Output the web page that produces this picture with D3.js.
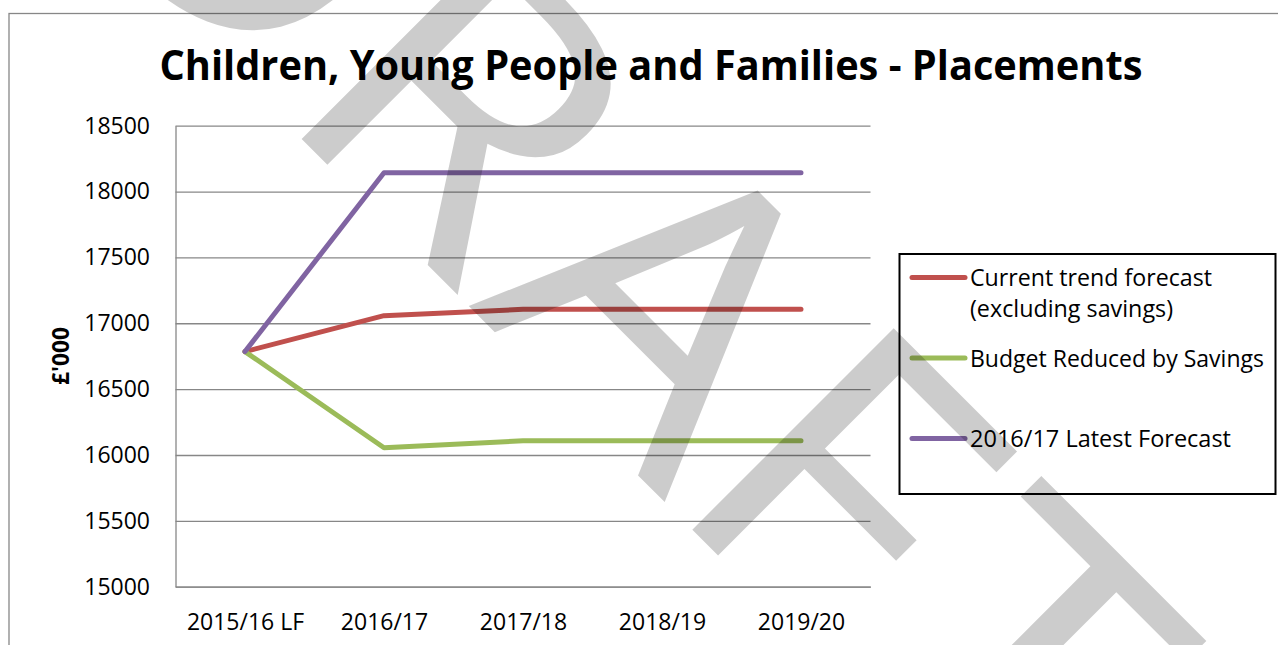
<!DOCTYPE html>
<html>
<head>
<meta charset="utf-8">
<script src="https://cdn.jsdelivr.net/npm/d3@7"></script>
<style>
  html, body { margin: 0; padding: 0; background: #fff; }
  svg { display: block; }
</style>
</head>
<body>
<svg id="chart" width="1278" height="645"></svg>
<script>
// Categories, series and ticks
const categories = ["2015/16 LF", "2016/17", "2017/18", "2018/19", "2019/20"];
const currentTrend = [16785, 17058, 17106, 17106, 17106];
const budgetReduced = [16785, 16055, 16108, 16108, 16108];
const latestForecast = [16785, 18143, 18143, 18143, 18143];
const yTicks = [15000, 15500, 16000, 16500, 17000, 17500, 18000, 18500];
const seriesLabels = [["Current trend forecast", "(excluding savings)"], ["Budget Reduced by Savings"], ["2016/17 Latest Forecast"]];
const seriesColors = ["#C0504D", "#9BBB59", "#8064A2"];
const titleText = "Children, Young People and Families - Placements";
const yTitle = "£'000";
const stamp = "DRAFT";

const series = [currentTrend, budgetReduced, latestForecast].map((values, i) => ({
  label: seriesLabels[i], color: seriesColors[i], values
}));

const font = "'Open Sans', 'Noto Sans', sans-serif";
const gridColor = "#878787";
const svg = d3.select("#chart");

// Outer chart frame (runs off the right and bottom edges)
svg.append("rect")
  .attr("x", 9).attr("y", 13.5).attr("width", 1290).attr("height", 660)
  .attr("fill", "#fff").attr("stroke", gridColor).attr("stroke-width", 1.3);

// Title
svg.append("text")
  .attr("x", 651).attr("y", 80)
  .attr("text-anchor", "middle")
  .attr("font-family", font).attr("font-weight", 700).attr("font-size", 42)
  .attr("textLength", 983).attr("lengthAdjust", "spacingAndGlyphs")
  .attr("fill", "#000")
  .text(titleText);

// Plot area
const plot = { left: 175.5, right: 870.5, top: 125.7, bottom: 586.7 };
const x = d3.scalePoint().domain(categories).range([plot.left, plot.right]).padding(0.5);
const y = d3.scaleLinear().domain([15000, 18500]).range([plot.bottom, plot.top]);

// Value axis with horizontal gridlines
const yAxis = svg.append("g")
  .attr("transform", `translate(${plot.left},0)`)
  .call(d3.axisLeft(y).tickValues(yTicks).tickFormat(d3.format("d"))
    .tickSize(-(plot.right - plot.left)).tickSizeOuter(0).tickPadding(25.5));
yAxis.select(".domain").attr("stroke", gridColor).attr("stroke-width", 1.3);
yAxis.selectAll(".tick line").attr("stroke", gridColor).attr("stroke-width", 1.3);
yAxis.selectAll(".tick text")
  .attr("font-family", font).attr("font-size", 23).attr("fill", "#000");

// Category axis
const xAxis = svg.append("g")
  .attr("transform", `translate(0,${plot.bottom})`)
  .call(d3.axisBottom(x).tickSize(0).tickSizeOuter(0).tickPadding(27));
xAxis.select(".domain").attr("stroke", gridColor).attr("stroke-width", 1.3);
xAxis.selectAll(".tick text")
  .attr("font-family", font).attr("font-size", 23).attr("fill", "#000");

// Value axis title
svg.append("text")
  .attr("transform", "translate(69,356) rotate(-90)")
  .attr("text-anchor", "middle")
  .attr("font-family", font).attr("font-weight", 700).attr("font-size", 23)
  .attr("textLength", 58).attr("lengthAdjust", "spacingAndGlyphs")
  .attr("fill", "#000")
  .text(yTitle);

// Series lines
const line = d3.line()
  .x((d, i) => x(categories[i]))
  .y(d => y(d));
svg.append("g").selectAll("path")
  .data(series)
  .join("path")
  .attr("d", s => line(s.values))
  .attr("fill", "none")
  .attr("stroke", s => s.color)
  .attr("stroke-width", 5)
  .attr("stroke-linejoin", "round")
  .attr("stroke-linecap", "round");

// Legend
const legend = svg.append("g");
legend.append("rect")
  .attr("x", 899.5).attr("y", 254).attr("width", 376).attr("height", 240)
  .attr("fill", "#fff").attr("stroke", "#000").attr("stroke-width", 2);
const legendWidths = [[242, 203], [294], [261]];
const items = legend.selectAll("g.item")
  .data(series)
  .join("g")
  .attr("class", "item")
  .attr("transform", (d, i) => `translate(0,${277.5 + i * 80.5})`);
items.append("line")
  .attr("x1", 912).attr("x2", 965)
  .attr("stroke", d => d.color).attr("stroke-width", 5).attr("stroke-linecap", "round");
items.each(function (d, i) {
  const g = d3.select(this);
  d.label.forEach((txt, j) => {
    g.append("text")
      .attr("x", 970).attr("y", 8.7 + j * 31)
      .attr("font-family", font).attr("font-size", 24).attr("fill", "#000")
      .attr("textLength", legendWidths[i][j]).attr("lengthAdjust", "spacingAndGlyphs")
      .text(txt);
  });
});

// Diagonal "DRAFT" stamp laid over the chart
(function drawStamp() {
  const size = 399, sx = 1.1, baseline = -115;
  // ink extents of each letter along the rotated baseline
  const spans = [[null, 240], [297, 549], [555, 822], [856, 1047], [1152, 1226]];
  const ctx = document.createElement("canvas").getContext("2d");
  ctx.font = `400 ${size}px 'Open Sans'`;
  const g = svg.append("g")
    .attr("transform", "rotate(45)")
    .attr("pointer-events", "none");
  stamp.split("").forEach((ch, i) => {
    const m = ctx.measureText(ch);
    const inkL = -m.actualBoundingBoxLeft, inkR = m.actualBoundingBoxRight;
    let xs;
    if (ch === "T") {
      // the T is placed by its stem centre
      xs = (spans[i][0] + spans[i][1]) / 2 - ((inkL + inkR) / 2) * sx;
    } else if (spans[i][0] === null) {
      xs = spans[i][1] - inkR * sx;
    } else {
      xs = (spans[i][0] + spans[i][1]) / 2 - ((inkL + inkR) / 2) * sx;
    }
    g.append("text")
      .attr("transform", `translate(${xs},${baseline}) scale(${sx},1)`)
      .attr("font-family", "'Open Sans'").attr("font-size", size)
      .attr("fill", "#000").attr("fill-opacity", 0.2)
      .text(ch);
  });
})();
</script>
</body>
</html>
